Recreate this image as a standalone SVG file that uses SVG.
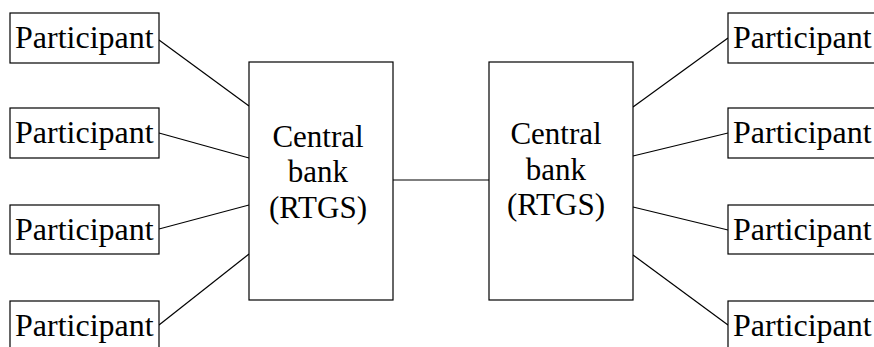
<svg xmlns="http://www.w3.org/2000/svg" width="874" height="347" viewBox="0 0 874 347">
<style>
rect{fill:#fff;stroke:#000;stroke-width:1.2}
line{stroke:#000;stroke-width:1.2}
text{font-family:"Liberation Serif","Times New Roman",serif;font-size:31px;fill:#000}
.p{font-size:32px}
.c{text-anchor:middle}
</style>
<rect x="0" y="0" width="874" height="347" style="stroke:none"/>
<g id="connectors">
<line x1="159" y1="40" x2="249" y2="106"/>
<line x1="159" y1="133" x2="249" y2="158"/>
<line x1="159" y1="229" x2="249" y2="205"/>
<line x1="159" y1="325" x2="249" y2="254"/>
<line x1="393" y1="180" x2="489" y2="180"/>
<line x1="633" y1="107" x2="728" y2="38"/>
<line x1="633" y1="156" x2="728" y2="133"/>
<line x1="633" y1="207" x2="728" y2="230"/>
<line x1="633" y1="255" x2="728" y2="325"/>
</g>
<g id="lp1"><rect x="10" y="13" width="149" height="50"/><text class="p" x="15" y="48">Participant</text></g>
<g id="lp2"><rect x="10" y="108" width="149" height="50"/><text class="p" x="15" y="143">Participant</text></g>
<g id="lp3"><rect x="10" y="205" width="149" height="49"/><text class="p" x="15" y="240">Participant</text></g>
<g id="lp4"><rect x="10" y="301" width="149" height="50"/><text class="p" x="15" y="336">Participant</text></g>
<g id="cb1"><rect x="249" y="62" width="144" height="238"/><text class="c" x="318" y="147">Central</text><text class="c" x="318" y="182">bank</text><text class="c" x="318" y="218">(RTGS)</text></g>
<g id="cb2"><rect x="489" y="62" width="144" height="238"/><text class="c" x="556" y="144">Central</text><text class="c" x="556" y="180">bank</text><text class="c" x="556" y="215">(RTGS)</text></g>
<g id="rp1"><rect x="728" y="13" width="150" height="50"/><text class="p" x="733" y="48">Participant</text></g>
<g id="rp2"><rect x="728" y="108" width="150" height="50"/><text class="p" x="733" y="143">Participant</text></g>
<g id="rp3"><rect x="728" y="205" width="150" height="49"/><text class="p" x="733" y="240">Participant</text></g>
<g id="rp4"><rect x="728" y="301" width="150" height="50"/><text class="p" x="733" y="336">Participant</text></g>
</svg>
